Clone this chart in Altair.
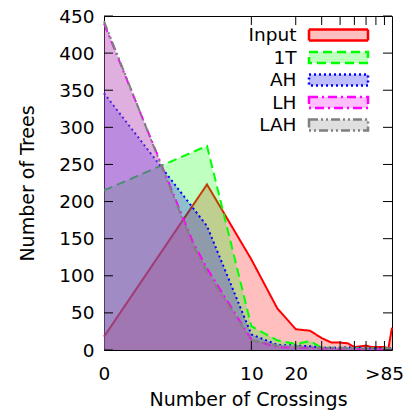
import altair as alt
import pandas as pd

series = ["Input", "1T", "AH", "LH", "LAH"]
colors = ["#ff0000", "#00ff00", "#0000ff", "#ff00ff", "#808080"]
dashes = [[1, 0], [9, 5], [2, 3], [9, 4, 2, 4], [9, 3, 2, 3, 2, 3]]

bins = [1, 5, 10, 15, 20, 25, 30, 35, 40, 45, 50, 55, 60, 65, 70, 75, 80, 85, 90]
bins_l = [1, 4, 5, 10, 15, 20, 25, 30, 35, 40, 45, 50, 55, 60, 65, 70, 75, 80, 85, 90]

input_y = [18, 223, 122, 56, 28, 26, 16, 10, 10, 9, 4, 5, 6, 4, 4, 4, 4, 2, 30]
t1_y = [215, 275, 32, 13, 8, 12, 3, 3, 3, 2, 3, 2, 2, 2, 2, 2, 2, 2, 3]
ah_y = [346, 167, 21, 7, 6, 5, 3, 3, 3, 4, 3, 3, 2, 2, 2, 2, 2, 2, 3]
lh_y = [440, 146, 110, 14, 4, 3, 3, 2, 2, 2, 2, 2, 1, 1, 1, 1, 1, 1, 2, 2]
lah_y = [443, 142, 105, 13, 6, 5, 4, 3, 3, 3, 3, 2, 2, 2, 2, 2, 2, 2, 2, 2]

xs = [bins, bins, bins, bins_l, bins_l]
ys = [input_y, t1_y, ah_y, lh_y, lah_y]

y_ticks = [0, 50, 100, 150, 200, 250, 300, 350, 400, 450]
x_label_vals = [1, 10, 20, 90]
x_tick_marks = [10, 20, 30, 40, 50, 60, 70, 80]

W, H = 288, 334
FONT = "DejaVu Sans"

xscale = alt.Scale(type="log", domain=[1, 90], nice=False)
yscale = alt.Scale(domain=[0, 450], nice=False, zero=True)

xaxis = alt.Axis(
    values=x_label_vals,
    labelExpr="datum.value == 1 ? '0' : (datum.value == 90 ? '>85' : datum.label)",
    labelOffset={"expr": "datum.value == 90 ? -8 : 0"},
    ticks=False, tickSize=0, domain=False, grid=False,
    labelFont=FONT, labelFontSize=18.5, labelColor="black", labelPadding=14,
    labelFlush=False, labelOverlap=False,
    title="Number of Crossings", titleFont=FONT, titleFontSize=19,
    titleFontWeight="normal", titleColor="black",
    titleX=144, titleY=55, titleBaseline="alphabetic", titleAlign="center",
)
yaxis = alt.Axis(
    values=y_ticks, ticks=False, tickSize=0, domain=False, grid=False,
    labelFont=FONT, labelFontSize=18.5, labelColor="black", labelPadding=10,
    labelFlush=False, labelOverlap=False,
    title="Number of Trees", titleFont=FONT, titleFontSize=19,
    titleFontWeight="normal", titleColor="black",
    titleX=-77, titleY=167, titleAngle=270, titleBaseline="middle", titleAlign="center",
)

layers = []
for name, c, d, x, y in zip(series, colors, dashes, xs, ys):
    df = pd.DataFrame({"x": x, "y": y, "series": name})
    base = alt.Chart(df).encode(
        x=alt.X("x:Q", scale=xscale, axis=xaxis),
        y=alt.Y("y:Q", scale=yscale, axis=yaxis, stack=None),
    )
    layers.append(base.mark_area(color=c, fillOpacity=0.25, opacity=1))
    layers.append(base.mark_line(color=c, strokeWidth=2, strokeDash=d))

# inward tick marks
ydf = pd.DataFrame({"v": y_ticks})
xdf = pd.DataFrame({"v": x_tick_marks})
layers.append(alt.Chart(ydf).mark_rule(color="black", strokeWidth=1).encode(
    y=alt.Y("v:Q", scale=yscale, axis=yaxis), x=alt.value(0), x2=alt.value(9)))
layers.append(alt.Chart(ydf).mark_rule(color="black", strokeWidth=1).encode(
    y=alt.Y("v:Q", scale=yscale, axis=yaxis), x=alt.value(W - 9), x2=alt.value(W)))
layers.append(alt.Chart(xdf).mark_rule(color="black", strokeWidth=1).encode(
    x=alt.X("v:Q", scale=xscale, axis=xaxis), y=alt.value(H - 9), y2=alt.value(H)))
layers.append(alt.Chart(xdf).mark_rule(color="black", strokeWidth=1).encode(
    x=alt.X("v:Q", scale=xscale, axis=xaxis), y=alt.value(0), y2=alt.value(9)))

# legend (top right, inside)
row_y = [19, 41.5, 64, 86.5, 109]
for name, c, d, yc in zip(series, colors, dashes, row_y):
    ldf = pd.DataFrame({"label": [name]})
    layers.append(alt.Chart(ldf).mark_rect(
        fill=c, fillOpacity=0.25, stroke=c, strokeWidth=2.5, strokeDash=d
    ).encode(x=alt.value(205), x2=alt.value(264), y=alt.value(yc - 5.5), y2=alt.value(yc + 5.5)))
    layers.append(alt.Chart(ldf).mark_text(
        align="right", baseline="middle", font=FONT, fontSize=18.5, color="black"
    ).encode(x=alt.value(192.5), y=alt.value(yc), text="label:N"))

chart = alt.layer(*layers).properties(
    width=W, height=H,
    autosize=alt.AutoSizeParams(type="none"),
    padding={"left": 96, "top": 8, "right": 12, "bottom": 60},
    background="white",
).configure_view(stroke="black", strokeWidth=1)

chart.save("out.html", embed_options={"renderer": "svg", "actions": False})
